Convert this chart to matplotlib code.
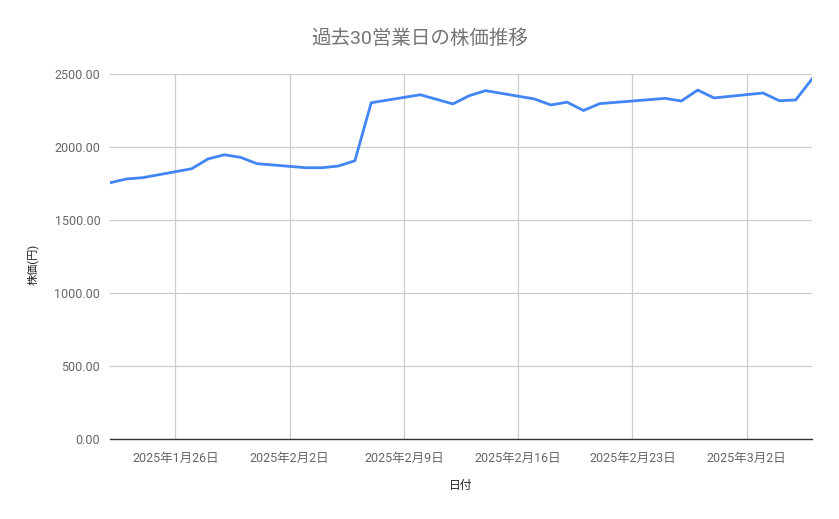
import matplotlib
matplotlib.use("Agg")
import matplotlib.pyplot as plt
import matplotlib.dates as mdates
from matplotlib.ticker import FuncFormatter, FixedLocator
import datetime as dt

plt.rcParams['font.family'] = ['Roboto', 'Noto Sans CJK JP', 'DejaVu Sans']

title = "過去30営業日の株価推移"
x_label = "日付"
y_label = "株価(円)"

dates = [
    "2025-01-22", "2025-01-23", "2025-01-24", "2025-01-27", "2025-01-28",
    "2025-01-29", "2025-01-30", "2025-01-31", "2025-02-03", "2025-02-04",
    "2025-02-05", "2025-02-06", "2025-02-07", "2025-02-10", "2025-02-12",
    "2025-02-13", "2025-02-14", "2025-02-17", "2025-02-18", "2025-02-19",
    "2025-02-20", "2025-02-21", "2025-02-25", "2025-02-26", "2025-02-27",
    "2025-02-28", "2025-03-03", "2025-03-04", "2025-03-05", "2025-03-06",
]
prices = [
    1755, 1781, 1790, 1851, 1918,
    1947, 1929, 1886, 1858, 1858,
    1870, 1906, 2303, 2358, 2295,
    2351, 2386, 2329, 2288, 2307,
    2250, 2297, 2333, 2315, 2390,
    2336, 2370, 2317, 2322, 2466,
]
x_ticks = ["2025-01-26", "2025-02-02", "2025-02-09", "2025-02-16", "2025-02-23", "2025-03-02"]
y_ticks = [0, 500, 1000, 1500, 2000, 2500]

xd = [dt.datetime.strptime(d, "%Y-%m-%d") for d in dates]
xt = [dt.datetime.strptime(d, "%Y-%m-%d") for d in x_ticks]

W, H = 839, 519
fig = plt.figure(figsize=(W / 100, H / 100), dpi=100)
ax = fig.add_axes([110 / W, 1 - 439 / H, (812 - 110) / W, (439 - 74) / H])

ax.plot(xd, prices, color="#4285F4", linewidth=2.0, solid_joinstyle="round", zorder=3)

ax.set_xlim(xd[0], xd[-1])
ax.set_ylim(0, 2500)
ax.yaxis.set_major_locator(FixedLocator(y_ticks))
ax.yaxis.set_major_formatter(FuncFormatter(lambda v, p: f"{v:.2f}"))
ax.xaxis.set_major_locator(FixedLocator([mdates.date2num(d) for d in xt]))
ax.xaxis.set_major_formatter(FuncFormatter(
    lambda v, p: (lambda d: f"{d.year}年{d.month}月{d.day}日")(mdates.num2date(v))))

ax.grid(True, color="#cccccc", linewidth=0.9, zorder=0)
ax.set_axisbelow(True)
for s in ["top", "right", "left"]:
    ax.spines[s].set_visible(False)
ax.spines["bottom"].set_color("#333333")
ax.spines["bottom"].set_linewidth(1.0)
ax.spines["bottom"].set_zorder(4)

ax.tick_params(axis="both", length=0, colors="#666666", labelsize=9)
ax.tick_params(axis="x", pad=9)
ax.tick_params(axis="y", pad=7)

fig.text(0.5, 1 - 39 / H, title, ha="center", va="center", fontsize=14, color="#757575")
fig.text(461 / W, 1 - 486 / H, x_label, ha="center", va="center", fontsize=8.5, color="#222222")
fig.text(33 / W, 1 - 264 / H, y_label, ha="center", va="center", fontsize=8,
         color="#222222", rotation=90)

fig.savefig("out.png", dpi=100, facecolor="white")
